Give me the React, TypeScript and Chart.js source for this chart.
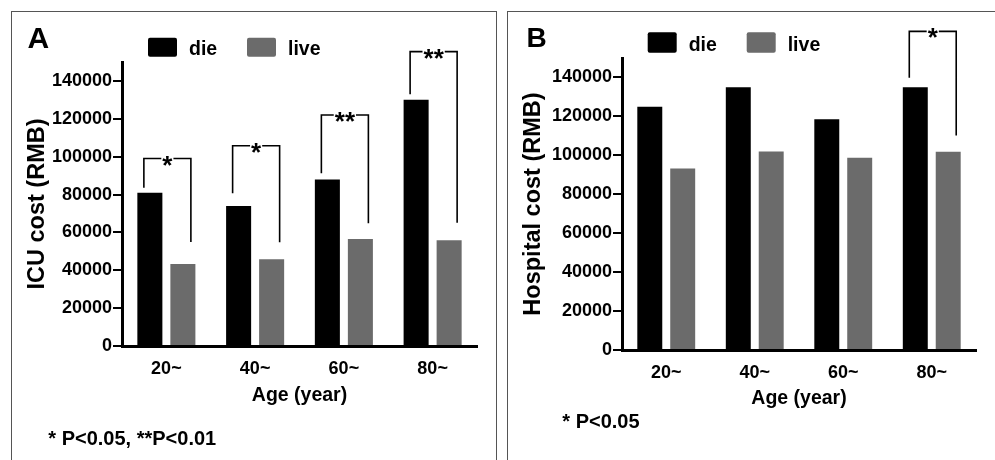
import React, { useEffect, useRef } from 'react';
import { Chart, registerables } from 'chart.js';

Chart.register(...registerables);

// ---------- data ----------
const categories = ['20~', '40~', '60~', '80~'];
const seriesLabels = ['die', 'live'];
const icuDie = [81000, 74000, 88000, 130000];
const icuLive = [43300, 45800, 56500, 55800];
const hospDie = [125000, 135000, 118500, 135000];
const hospLive = [93300, 102000, 98700, 101800];
const yTickValues = [0, 20000, 40000, 60000, 80000, 100000, 120000, 140000];

// significance brackets (values in y units)
const icuSigIndex = [0, 1, 2, 3];
const icuSigLabel = ['*', '*', '**', '**'];
const icuBracketTop = [99000, 105800, 122000, 155500];
const icuBracketDieEnd = [83600, 80700, 91200, 133000];
const icuBracketLiveEnd = [54900, 54800, 64800, 65100];

const hospSigIndex = [3];
const hospSigLabel = ['*'];
const hospBracketTop = [163700];
const hospBracketDieEnd = [139900];
const hospBracketLiveEnd = [110200];

// ---------- style ----------
const FONT = "'Liberation Sans', Arial, Helvetica, sans-serif";
const COLORS = ['#000000', '#6b6b6b'];

type PanelCfg = {
  letter: string;
  yTitle: string;
  footnote: string;
  die: number[];
  live: number[];
  sigIndex: number[];
  sigLabel: string[];
  bTop: number[];
  bDie: number[];
  bLive: number[];
  left: number;
  top: number;
  width: number;
  height: number;
  pad: { top: number; right: number; bottom: number };
  yWidth: number;
  xHeight: number;
  xLabelPad: number;
  xTitlePadBottom: number;
  letterX: number;
  letterY: number;
  letterSize: number;
  legendX: number;
  legendY: number;
  legendBoxH: number;
  legendBaseline: number;
  footX: number;
  footY: number;
};

const panelA: PanelCfg = {
  letter: 'A',
  yTitle: 'ICU cost (RMB)',
  footnote: '* P<0.05, **P<0.01',
  die: icuDie,
  live: icuLive,
  sigIndex: icuSigIndex,
  sigLabel: icuSigLabel,
  bTop: icuBracketTop,
  bDie: icuBracketDieEnd,
  bLive: icuBracketLiveEnd,
  left: 12,
  top: 12,
  width: 484,
  height: 448,
  pad: { top: 50, right: 19, bottom: 51 },
  yWidth: 110,
  xHeight: 63,
  xLabelPad: 12,
  xTitlePadBottom: 2,
  letterX: 15.5,
  letterY: 35.7,
  letterSize: 30,
  legendX: 136,
  legendY: 25.7,
  legendBoxH: 19,
  legendBaseline: 43,
  footX: 36.3,
  footY: 433,
};

const panelB: PanelCfg = {
  letter: 'B',
  yTitle: 'Hospital cost (RMB)',
  footnote: '* P<0.05',
  die: hospDie,
  live: hospLive,
  sigIndex: hospSigIndex,
  sigLabel: hospSigLabel,
  bTop: hospBracketTop,
  bDie: hospBracketDieEnd,
  bLive: hospBracketLiveEnd,
  left: 508,
  top: 12,
  width: 487,
  height: 448,
  pad: { top: 46, right: 19, bottom: 48 },
  yWidth: 114,
  xHeight: 62,
  xLabelPad: 12.5,
  xTitlePadBottom: 1.6,
  letterX: 18.5,
  letterY: 34.7,
  letterSize: 28,
  legendX: 139.7,
  legendY: 20.3,
  legendBoxH: 20.4,
  legendBaseline: 38.7,
  footX: 54.3,
  footY: 416.3,
};

function makeOverlay(p: PanelCfg) {
  return {
    id: 'overlay' + p.letter,
    afterDraw(chart: any) {
      const ctx = chart.ctx;
      ctx.save();
      ctx.fillStyle = '#000';
      ctx.textAlign = 'left';
      ctx.textBaseline = 'alphabetic';

      // panel letter
      ctx.font = `bold ${p.letterSize}px ${FONT}`;
      ctx.fillText(p.letter, p.letterX, p.letterY);

      // legend
      ctx.font = `bold 19.5px ${FONT}`;
      seriesLabels.forEach((lab, i) => {
        const bx = p.legendX + i * 99;
        ctx.fillStyle = COLORS[i];
        ctx.beginPath();
        (ctx as any).roundRect(bx, p.legendY, 29, p.legendBoxH, 2);
        ctx.fill();
        ctx.fillStyle = '#000';
        ctx.fillText(lab, bx + 41, p.legendBaseline);
      });

      // significance brackets
      const dieMeta = chart.getDatasetMeta(0);
      const liveMeta = chart.getDatasetMeta(1);
      const ys = chart.scales.y;
      const starSize = 26;
      ctx.font = `bold ${starSize}px ${FONT}`;
      ctx.strokeStyle = '#000';
      ctx.lineWidth = 1.6;
      p.sigIndex.forEach((idx, k) => {
        const x1 = dieMeta.data[idx].x - 6;
        const x2 = liveMeta.data[idx].x + 8;
        const yt = ys.getPixelForValue(p.bTop[k]);
        const y1 = ys.getPixelForValue(p.bDie[k]);
        const y2 = ys.getPixelForValue(p.bLive[k]);
        const lab = p.sigLabel[k];
        const w = ctx.measureText(lab).width;
        const mid = (x1 + x2) / 2;
        ctx.beginPath();
        ctx.moveTo(x1, y1);
        ctx.lineTo(x1, yt);
        ctx.lineTo(mid - w / 2 - 1, yt);
        ctx.moveTo(mid + w / 2 + 1, yt);
        ctx.lineTo(x2, yt);
        ctx.lineTo(x2, y2);
        ctx.stroke();
        ctx.textAlign = 'center';
        ctx.fillText(lab, mid, yt + 0.58 * starSize);
        ctx.textAlign = 'left';
      });

      // footnote
      ctx.font = `bold 20px ${FONT}`;
      ctx.fillText(p.footnote, p.footX, p.footY);
      ctx.restore();
    },
  };
}

function Panel({ p }: { p: PanelCfg }) {
  const ref = useRef<HTMLCanvasElement | null>(null);
  useEffect(() => {
    if (!ref.current) return;
    const chart = new Chart(ref.current, {
      type: 'bar',
      data: {
        labels: categories,
        datasets: [
          {
            label: seriesLabels[0],
            data: p.die,
            backgroundColor: COLORS[0],
            barPercentage: 0.758,
            categoryPercentage: 0.744,
          },
          {
            label: seriesLabels[1],
            data: p.live,
            backgroundColor: COLORS[1],
            barPercentage: 0.758,
            categoryPercentage: 0.744,
          },
        ],
      },
      options: {
        responsive: false,
        animation: false,
        devicePixelRatio: 1,
        layout: { padding: { left: 0, top: p.pad.top, right: p.pad.right, bottom: p.pad.bottom } },
        plugins: {
          legend: { display: false },
          tooltip: { enabled: false },
          title: { display: false },
        },
        scales: {
          x: {
            type: 'category',
            offset: true,
            grid: { display: false, drawTicks: false },
            border: { display: true, color: '#000', width: 3 },
            ticks: {
              color: '#000',
              padding: p.xLabelPad,
              maxRotation: 0,
              font: { family: FONT, size: 18, weight: 'bold' },
            },
            title: {
              display: true,
              text: 'Age (year)',
              color: '#000',
              font: { family: FONT, size: 19.5, weight: 'bold', lineHeight: 1.2 },
              padding: { top: 0, bottom: p.xTitlePadBottom },
            },
            afterFit: (s: any) => {
              s.height = p.xHeight;
            },
          },
          y: {
            type: 'linear',
            min: 0,
            max: 150000,
            ticks: {
              stepSize: 20000,
              color: '#000',
              padding: 1,
              font: { family: FONT, size: 18, weight: 'bold' },
              callback: (v: any) => String(v),
            },
            grid: {
              display: true,
              drawOnChartArea: false,
              drawTicks: true,
              tickLength: 9,
              color: '#000',
              lineWidth: 2,
            },
            border: { display: true, color: '#000', width: 3 },
            title: {
              display: true,
              text: p.yTitle,
              color: '#000',
              font: { family: FONT, size: 23.5, weight: 'bold', lineHeight: 1.2 },
              padding: { top: 11.9, bottom: 0 },
            },
            afterBuildTicks: (axis: any) => {
              axis.ticks = yTickValues.map((v) => ({ value: v }));
            },
            afterFit: (s: any) => {
              s.width = p.yWidth;
            },
          },
        },
      } as any,
      plugins: [makeOverlay(p)],
    });
    return () => chart.destroy();
  }, [p]);
  return (
    <canvas
      ref={ref}
      width={p.width}
      height={p.height}
      style={{ position: 'absolute', left: p.left, top: p.top, width: p.width, height: p.height }}
    />
  );
}

export default function App() {
  return (
    <div
      style={{
        position: 'absolute',
        left: 0,
        top: 0,
        width: 995,
        height: 460,
        overflow: 'hidden',
        background: '#fff',
      }}
    >
      <div
        style={{
          position: 'absolute',
          left: 11,
          top: 11,
          width: 486,
          height: 449,
          boxSizing: 'border-box',
          border: '1px solid #555',
          borderBottom: 'none',
        }}
      />
      <div
        style={{
          position: 'absolute',
          left: 507,
          top: 11,
          width: 520,
          height: 449,
          boxSizing: 'border-box',
          borderLeft: '1px solid #555',
          borderTop: '1px solid #555',
        }}
      />
      <Panel p={panelA} />
      <Panel p={panelB} />
    </div>
  );
}
